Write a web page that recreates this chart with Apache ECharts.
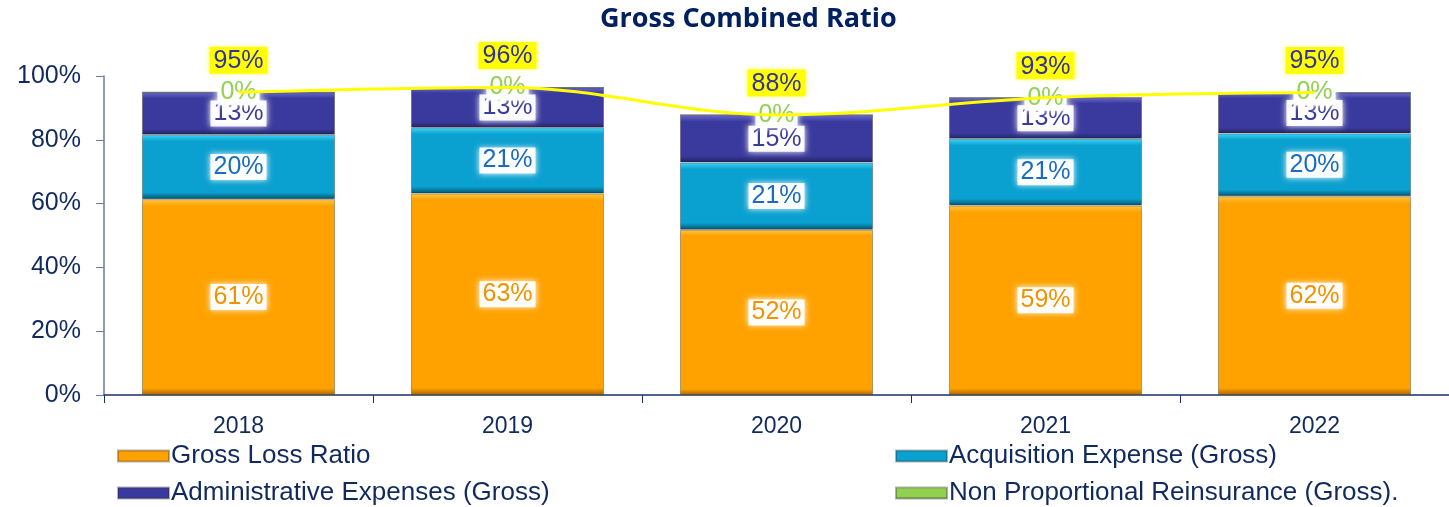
<!DOCTYPE html>
<html>
<head>
<meta charset="utf-8">
<title>Gross Combined Ratio</title>
<script src="https://cdn.jsdelivr.net/npm/echarts@6/dist/echarts.min.js"></script>
<style>
	html,body{margin:0;padding:0;background:#fff;}
	#chart{width:1449px;height:507px;}
</style>
</head>
<body>
<div id="chart"></div>
<script>
	var years = ['2018', '2019', '2020', '2021', '2022'];
	var lossRatio = [61.4, 63.2, 51.8, 59.4, 62.3];
	var acquisition = [20.2, 20.6, 21.1, 20.9, 19.7];
	var administrative = [13.3, 12.6, 14.9, 12.9, 12.8];
	var nonProportional = [0, 0, 0, 0, 0];
	var combined = [94.9, 96.4, 87.8, 93.2, 94.8];
	var yTicks = [0, 20, 40, 60, 80, 100];

	var navy = '#10295e';
	var font = 'Liberation Sans, Arial, sans-serif';

	// vertical gradient that fakes the bevelled bar edges
	function bevel(light, base, dark, edge){
		return new echarts.graphic.LinearGradient(0, 0, 0, 1, [
			{offset: 0, color: light},
			{offset: edge, color: base},
			{offset: 1 - edge, color: base},
			{offset: 1, color: dark}
		]);
	}

	function pct(p){
		return Math.round(p.value) + '%';
	}

	// label box: white glow behind coloured text
	function boxLabel(color){
		return {
			show: true,
			position: 'inside',
			formatter: pct,
			color: color,
			fontSize: 25,
			fontFamily: font,
			backgroundColor: 'rgba(255,255,255,0.92)',
			shadowColor: '#ffffff',
			shadowBlur: 6,
			padding: [1, 3, 0, 3]
		};
	}

	function barSeries(name, data, fill, labelColor){
		return {
			name: name,
			type: 'bar',
			stack: 'ratio',
			barWidth: 193,
			data: data,
			itemStyle: {color: fill, borderColor: 'rgba(40,40,40,0.35)', borderWidth: 1},
			label: boxLabel(labelColor),
			emphasis: {disabled: true}
		};
	}

	function legendItem(name, left, top){
		return {
			data: [name],
			left: left, top: top,
			itemWidth: 51, itemHeight: 11,
			icon: 'rect',
			textStyle: {color: navy, fontSize: 26, lineHeight: 26, fontFamily: font, padding: [0, 0, 0, -3]}
		};
	}

	var chart = echarts.init(document.getElementById('chart'));
	var option = {
		animation: false,
		title: {
			text: 'Gross Combined Ratio',
			left: 595,
			top: 1,
			textStyle: {color: '#002060', fontSize: 27, fontWeight: 'bold', fontFamily: 'Open Sans, sans-serif'}
		},
		grid: {left: 104, top: 76, width: 1355, bottom: 112},
		legend: [
			legendItem('Gross Loss Ratio', 112, 438),
			legendItem('Administrative Expenses (Gross)', 112, 475),
			legendItem('Acquisition Expense (Gross)', 890, 438),
			legendItem('Non Proportional Reinsurance (Gross).', 890, 475)
		],
		xAxis: {
			type: 'category',
			data: years,
			axisLine: {lineStyle: {color: '#1b2f66', width: 1.5}},
			axisTick: {show: true, length: 8, lineStyle: {color: '#1b2f66'}},
			axisLabel: {color: navy, fontSize: 23, margin: 20, fontFamily: font}
		},
		yAxis: {
			type: 'value',
			min: yTicks[0],
			max: yTicks[yTicks.length - 1],
			interval: 20,
			axisLine: {show: true, lineStyle: {color: '#6b7aa6', width: 1.5}},
			axisTick: {show: true, length: 8, lineStyle: {color: '#6b7aa6'}},
			splitLine: {show: false},
			axisLabel: {color: navy, fontSize: 25, margin: 23, formatter: '{value}%', fontFamily: font}
		},
		series: [
			barSeries('Gross Loss Ratio', lossRatio, bevel('#ffc84a', '#ffa200', '#a86400', 0.035), '#f39200'),
			barSeries('Acquisition Expense (Gross)', acquisition, bevel('#3fd7f7', '#0aa0d0', '#05506b', 0.1), '#1a6cc0'),
			barSeries('Administrative Expenses (Gross)', administrative, bevel('#6a6ad2', '#3a3a9e', '#22225e', 0.14), '#3b3b9b'),
			barSeries('Non Proportional Reinsurance (Gross).', nonProportional, bevel('#c3ee8e', '#92d050', '#4e7a22', 0.2), '#92d050'),
			{
				name: 'Gross Combined Ratio',
				type: 'line',
				data: combined,
				smooth: 0.35,
				symbol: 'circle',
				symbolSize: 1,
				itemStyle: {color: '#ffff00'},
				lineStyle: {color: '#ffff00', width: 3},
				z: 3,
				label: {
					show: true,
					position: 'top',
					distance: 18,
					formatter: pct,
					color: '#333399',
					fontSize: 25,
					fontFamily: font,
					backgroundColor: '#ffff00',
					shadowColor: '#ffff66',
					shadowBlur: 5,
					padding: [2, 4, 0, 4]
				},
				emphasis: {disabled: true}
			}
		]
	};
	chart.setOption(option);
</script>
</body>
</html>
